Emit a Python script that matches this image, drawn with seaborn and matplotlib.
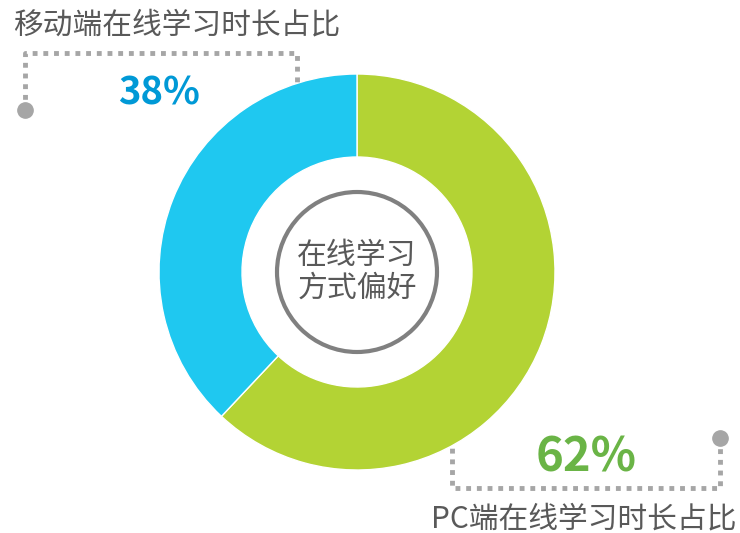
import matplotlib
matplotlib.use("Agg")
import matplotlib.pyplot as plt
import seaborn as sns

# DATA
labels = ["PC端在线学习时长占比", "移动端在线学习时长占比"]
shares = [62, 38]
center_title = "在线学习\n方式偏好"

sns.set_theme(style="white")
plt.rcParams['font.family'] = ['Noto Sans CJK SC', 'DejaVu Sans']

W, H = 740, 533
fig = plt.figure(figsize=(W / 100, H / 100), dpi=100)
ax = fig.add_axes([0, 0, 1, 1])

cx, cy = 357, H - 272
colors = ['#B3D334', '#1FC8F0']

ax.pie(
    shares,
    colors=colors,
    startangle=90,
    counterclock=False,
    center=(cx, cy),
    radius=198,
    wedgeprops=dict(width=83, edgecolor='white', linewidth=1.0),
    frame=True
)
ax.set_xlim(0, W)
ax.set_ylim(0, H)
ax.set_aspect('equal')
ax.axis('off')

# center ring and text
ring = plt.Circle((cx, cy), 80, fill=False, edgecolor='#808080', linewidth=3)
ax.add_patch(ring)
ax.text(cx, cy, center_title, ha='center', va='center',
        fontsize=21.5, color='#595959', linespacing=1.1)

gray = '#A6A6A6'

# top-left bracket for mobile share
ax.plot([25, 25, 297, 297], [H - 110, H - 53, H - 53, H - 82],
        linestyle=(0, (1, 1.2)), color=gray, linewidth=3.5, solid_capstyle='butt')
ax.plot(25, H - 110, 'o', color=gray, markersize=11)
ax.text(13, H - 25, labels[1], ha='left', va='center',
        fontsize=21.4, color='#595959')
ax.text(159, H - 93, f"{shares[1]}%", ha='center', va='center',
        fontsize=27.5, fontweight='bold', color='#0099D6')

# bottom-right bracket for PC share
ax.plot([720, 720, 452, 452], [H - 438, H - 488, H - 488, H - 447],
        linestyle=(0, (1, 1.2)), color=gray, linewidth=3.5, solid_capstyle='butt')
ax.plot(720, H - 438, 'o', color=gray, markersize=11)
ax.text(737, H - 519, labels[0], ha='right', va='center',
        fontsize=21.4, color='#595959')
ax.text(586, H - 458, f"{shares[0]}%", ha='center', va='center',
        fontsize=34, fontweight='bold', color='#6AB446')

fig.savefig("out.png", dpi=100)
